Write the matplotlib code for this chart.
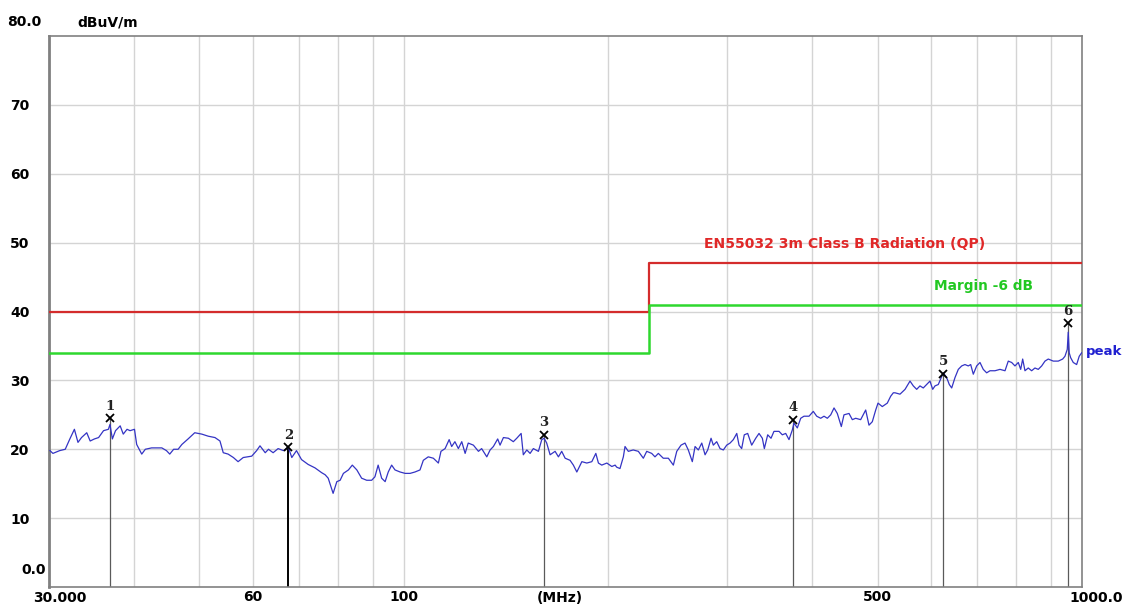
import matplotlib.pyplot as plt

# данные (МГц, дБмкВ/м)
freq_mhz = [30.1, 30.4, 31.1, 31.7, 32.2, 32.7, 33.1, 33.5, 34.1, 34.5, 35.0, 35.5, 36.1, 36.7, 36.9, 37.2,
            37.6, 38.2, 38.6, 39.1, 39.5, 40.1, 40.4, 41.1, 41.6, 42.5, 44.0, 44.7, 45.2, 45.8, 46.5, 47.1,
            48.1, 49.2, 50.4, 51.5, 52.7, 53.6, 54.2, 55.1, 56.1, 57.0, 58.0, 59.7, 60.7, 61.4, 62.5, 63.2,
            64.2, 65.3, 66.5, 67.6, 68.4, 69.5, 70.7, 72.3, 74.0, 75.7,
            76.6, 77.4, 78.7, 79.7, 80.6, 81.5, 82.9, 84.0, 85.3, 86.7, 88.2, 89.7, 90.7, 91.7, 92.8, 93.9,
            94.9, 96.0, 97.1, 98.8, 100.5, 102.2, 103.9, 105.7, 106.9, 108.7, 110.6, 112.5, 113.5, 115.1,
            116.7, 117.7, 119.0, 120.4, 121.8, 123.2, 124.5, 126.7, 128.9, 130.3, 132.6, 134.1, 135.6, 137.6,
            138.7, 140.3, 142.7, 145.1, 146.8, 149.0, 150.1, 151.9, 153.6, 155.3, 158.0, 159.8, 161.1, 162.5,
            164.4, 167.2, 169.1, 171.0, 173.0, 175.9, 177.9, 180.0, 183.1, 186.2, 189.4, 192.0, 193.7, 195.9,
            199.3, 202.7, 205.0,
            206.1, 208.4, 210.8, 212.0, 214.4, 218.0, 221.8, 225.6, 228.2, 232.1, 234.7, 237.4, 241.4, 245.6,
            249.8, 252.7, 256.4, 259.9, 262.8, 266.4, 268.9, 271.9, 275.1, 278.2, 280.7, 283.9, 286.1, 289.4,
            292.7, 296.0, 299.4, 302.8, 306.2, 309.8, 312.2, 315.0, 317.8, 321.5, 325.9, 330.4, 334.1, 337.9,
            340.2, 344.1, 348.0, 351.5, 357.6, 361.6, 365.8, 369.9, 374.1, 376.2, 380.5, 384.9, 389.2, 395.9,
            401.7, 406.4, 411.9, 416.6, 421.3, 426.2, 431.0, 435.8, 441.8, 445.8, 453.5, 458.6, 463.9, 471.8,
            479.9, 485.3, 490.8, 496.5, 500.4, 507.7, 516.4, 522.4, 527.1,
            530.1, 539.2, 548.5, 557.8, 564.1, 570.6, 577.0, 583.5, 590.3, 596.9, 602.5, 607.2, 614.0, 624.5,
            631.8, 637.4, 642.6, 649.8, 657.2, 664.8, 672.2, 679.8, 685.4, 691.5, 699.5, 707.4, 715.3, 723.6,
            731.8, 744.3, 757.1, 770.1, 778.7, 787.7, 796.6, 805.6, 812.2, 817.7, 824.1, 833.4, 843.0, 852.5,
            862.1, 872.2, 882.0, 891.9, 907.2, 922.7, 936.6, 943.9, 951.3, 954.5, 957.7, 962.3, 970.9, 982.1,
            990.7, 998.9]
peak_db = [19.8, 19.4, 19.8, 20.0, 21.5, 22.9, 21.0, 21.7, 22.4, 21.2, 21.5, 21.7, 22.7, 22.9, 23.6, 21.5,
           22.7, 23.4, 22.2, 22.9, 22.7, 22.9, 20.7, 19.3, 20.0, 20.2, 20.2, 19.8, 19.3, 20.0, 20.0, 20.7,
           21.5, 22.4, 22.2, 21.9, 21.7, 21.2, 19.5, 19.3, 18.8, 18.2, 18.8, 19.0, 19.8, 20.5, 19.5, 20.0,
           19.5, 20.1, 19.8, 20.3, 18.8, 19.8, 18.5, 17.8, 17.3, 16.6,
           16.3, 15.8, 13.6, 15.3, 15.5, 16.5, 17.0, 17.7, 17.0, 15.8, 15.5, 15.5, 16.0, 17.7, 15.8, 15.3,
           16.7, 17.7, 17.0, 16.7, 16.5, 16.5, 16.7, 17.0, 18.4, 18.9, 18.7, 18.0, 19.7, 20.1,
           21.4, 20.4, 21.1, 20.1, 21.1, 19.4, 20.9, 20.6, 19.7, 20.1, 18.9, 19.9, 20.4, 21.5,
           20.6, 21.7, 21.6, 21.1, 21.6, 22.3, 19.2, 19.9, 19.4, 20.1, 19.7, 21.4, 21.6, 20.9,
           19.2, 19.7, 18.9, 19.7, 18.7, 18.4, 17.7, 16.7, 18.2, 18.0, 18.2, 19.4, 18.0, 17.7,
           18.0, 17.5, 17.7,
           17.4, 17.2, 18.9, 20.4, 19.7, 19.9, 19.7, 18.7, 19.7, 19.4, 18.9, 19.4, 18.7, 18.7,
           17.7, 19.7, 20.6, 20.9, 19.9, 18.2, 20.4, 19.9, 20.9, 19.2, 19.9, 21.6, 20.6, 21.1,
           20.1, 19.9, 20.6, 20.9, 21.4, 22.3, 20.6, 20.1, 22.1, 22.3, 20.6, 21.6, 22.3, 21.6,
           20.1, 22.1, 21.6, 22.6, 22.6, 22.1, 22.3, 21.4, 22.8, 23.8, 23.1, 24.5, 24.8, 24.8,
           25.5, 24.8, 24.5, 24.8, 24.5, 25.0, 26.0, 25.2, 23.3, 25.0, 25.2, 24.3, 24.5, 24.3,
           25.7, 23.5, 24.0, 25.7, 26.7, 26.2, 26.7, 27.7, 28.2,
           28.2, 28.0, 28.7, 29.9, 29.2, 28.7, 29.2, 28.9, 29.4, 29.9, 28.7, 29.2, 29.4, 31.1,
           30.4, 29.4, 28.9, 30.4, 31.6, 32.1, 32.3, 32.1, 32.3, 30.9, 32.1, 32.6, 31.6, 31.1,
           31.4, 31.4, 31.6, 31.4, 32.8, 32.6, 32.1, 32.6, 31.6, 33.1, 31.4, 31.8, 31.4, 31.8,
           31.6, 32.1, 32.8, 33.1, 32.8, 32.8, 33.1, 33.5, 34.5, 37.0, 34.0, 33.3, 32.6, 32.3,
           33.5, 34.0]

# лимит EN55032 (QP) и запас -6 дБ
limit_freq = [30, 230, 1000]
limit_db = [40, 47, 47]
margin_db = [34, 41, 41]

# маркеры
marker_num = ['1', '2', '3', '4', '5', '6']
marker_freq = [36.9, 67.6, 161.1, 375.0, 624.5, 954.5]
marker_db = [24.5, 20.3, 22.1, 24.3, 31.0, 38.3]

grid_x = [40, 50, 60, 70, 80, 90, 100, 200, 300, 400, 500, 600, 700, 800, 900]
grid_y = [10, 20, 30, 40, 50, 60, 70]

plt.rcParams['font.family'] = ['DejaVu Sans']
plt.rcParams['font.weight'] = 'bold'
plt.rcParams['font.size'] = 10

fig = plt.figure(figsize=(11.24, 6.04), dpi=100)
ax = fig.add_axes([0.0436, 0.0281, 0.919, 0.9123])
ax.set_xscale('log')
ax.set_xlim(30, 1000)
ax.set_ylim(0, 80)

for g in grid_x:
    ax.axvline(g, color='#d4d4d4', lw=1, zorder=0)
for g in grid_y:
    ax.axhline(g, color='#d4d4d4', lw=1, zorder=0)

ax.step(limit_freq, limit_db, where='post', color='#d42c2c', lw=1.6, zorder=3)
ax.step(limit_freq, margin_db, where='post', color='#2ed82e', lw=1.8, zorder=3)
ax.plot(freq_mhz, peak_db, color='#3434c4', lw=0.9, zorder=4)

for i in range(len(marker_freq)):
    c = 'black' if i == 1 else '#5a5a5a'
    w = 1.4 if i == 1 else 0.9
    ax.vlines(marker_freq[i], 0, marker_db[i], color=c, lw=w, zorder=2)
    ax.plot(marker_freq[i], marker_db[i], marker='x', color='black', ms=6, mew=1.3, zorder=5)
    ax.annotate(marker_num[i], (marker_freq[i], marker_db[i]), xytext=(0, 4),
                textcoords='offset points', ha='center', va='bottom', fontsize=9.5,
                family='DejaVu Serif', color='#222222')

ax.text(447, 49.8, 'EN55032 3m Class B Radiation (QP)', color='#e02828', ha='center',
        va='center', fontsize=10.1)
ax.text(717, 43.7, 'Margin -6 dB', color='#22c822', ha='center', va='center', fontsize=9.9)
ax.annotate('peak', (1, 34.2), xycoords=('axes fraction', 'data'), xytext=(3, 0),
            textcoords='offset points', color='#2020d0', ha='left', va='center', fontsize=9.5)

# оси и подписи
ax.set_yticks(grid_y)
ax.set_yticklabels([str(v) for v in grid_y])
ax.tick_params(axis='y', length=0, pad=28)
for lab in ax.get_yticklabels():
    lab.set_horizontalalignment('left')
ax.set_xticks([60, 100, 500])
ax.set_xticklabels(['60', '100', '500'])
ax.set_xticks([], minor=True)
ax.tick_params(axis='x', length=0, pad=2)

ax.annotate('80.0', (0, 80), xycoords=('axes fraction', 'data'), xytext=(-30, 10),
            textcoords='offset points', ha='left', va='center')
ax.annotate('0.0', (0, 0), xycoords=('axes fraction', 'data'), xytext=(-20, 12),
            textcoords='offset points', ha='left', va='center')
ax.annotate('dBuV/m', (0, 1), xycoords='axes fraction', xytext=(42, 10),
            textcoords='offset points', ha='center', va='center')
ax.annotate('30.000', (30, 0), xycoords=('data', 'axes fraction'), xytext=(8, -8),
            textcoords='offset points', ha='center', va='center')
ax.annotate('(MHz)', (170, 0), xycoords=('data', 'axes fraction'), xytext=(0, -8),
            textcoords='offset points', ha='center', va='center')
ax.annotate('1000.0', (1000, 0), xycoords=('data', 'axes fraction'), xytext=(10, -8),
            textcoords='offset points', ha='center', va='center')

for s in ax.spines.values():
    s.set_color('#808080')
    s.set_linewidth(1.2)
ax.spines['left'].set_linewidth(2)

plt.savefig('out.png', dpi=100)
